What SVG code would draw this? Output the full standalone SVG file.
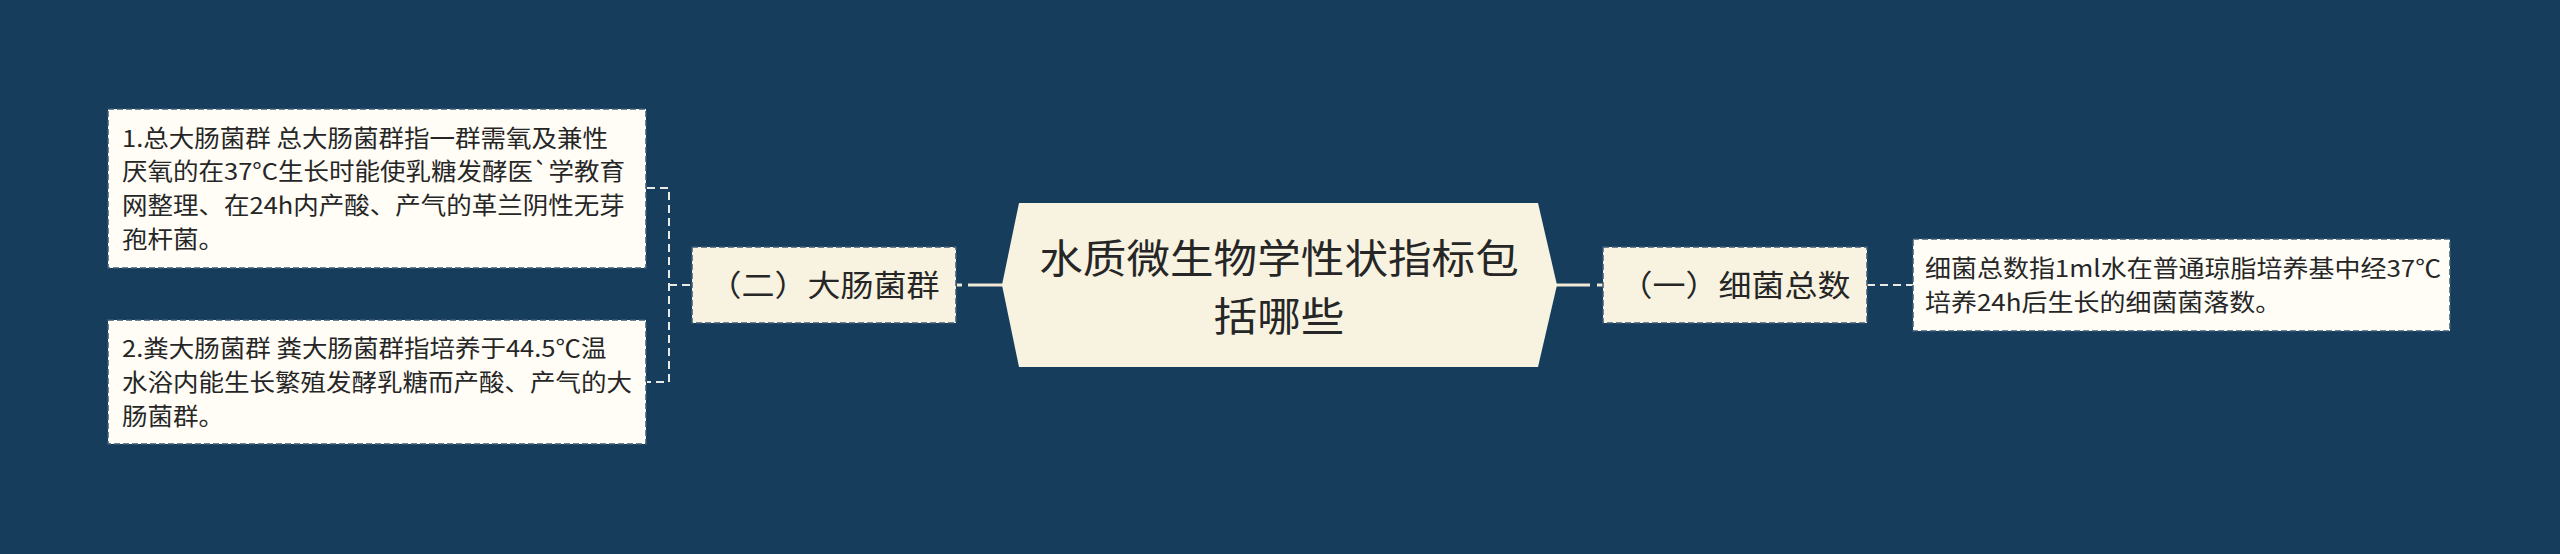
<svg xmlns="http://www.w3.org/2000/svg" width="2560" height="554" viewBox="0 0 2560 554">
<style>
.bg{fill:#173d5c}
.leaf{fill:#fffdf6;stroke:#3d5a75;stroke-width:1.5;stroke-dasharray:6 3}
.node{fill:#f8f3e1;stroke:#3d5a75;stroke-width:1.5;stroke-dasharray:6 3}
.center{fill:#f8f3e1}
.dash{fill:none;stroke:#e9e9e6;stroke-width:2;stroke-dasharray:8 5}
.solid{fill:none;stroke:#efe9d6;stroke-width:3}
text{font-family:"Noto Sans CJK SC","Noto Sans",sans-serif;fill:#262626}
.lt{font-size:23.4px}
.nt{font-size:30px;text-anchor:middle}
.tt{font-size:40px;text-anchor:middle}
</style>
<rect class="bg" x="0" y="0" width="2560" height="554"/>
<g id="connectors">
<path class="dash" d="M647,188 H669 V382 H647"/>
<path class="dash" d="M669,285 H692"/>
<path class="solid" d="M968,285 H1003"/>
<path class="solid" d="M957,285 H962"/>
<path class="solid" d="M1556,285 H1590"/>
<path class="solid" d="M1597,285 H1603"/>
<path class="dash" d="M1867,285 H1913"/>
</g>
<g id="center">
<polygon class="center" points="1002,285 1019,203 1538,203 1557,285 1538,367 1019,367"/>
<text class="tt" transform="translate(1279,273) scale(1.09,1)"><tspan x="0" y="0">水质微生物学性状指标包</tspan><tspan x="0" y="58">括哪些</tspan></text>
</g>
<g id="node-2">
<rect class="node" x="692" y="247" width="264" height="76"/>
<text class="nt" transform="translate(824,296) scale(1.1,1)" x="0" y="0">（二）大肠菌群</text>
</g>
<g id="node-1">
<rect class="node" x="1603" y="247" width="264" height="76"/>
<text class="nt" transform="translate(1735,296) scale(1.1,1)" x="0" y="0">（一）细菌总数</text>
</g>
<g id="leaf-2-1">
<rect class="leaf" x="108" y="109" width="538" height="159"/>
<text class="lt" transform="translate(122,146.5) scale(1.09,1)"><tspan x="0" y="0">1.总大肠菌群 总大肠菌群指一群需氧及兼性</tspan><tspan x="0" y="33.7">厌氧的在37°C生长时能使乳糖发酵医`学教育</tspan><tspan x="0" y="67.4">网整理、在24h内产酸、产气的革兰阴性无芽</tspan><tspan x="0" y="101.1">孢杆菌。</tspan></text>
</g>
<g id="leaf-2-2">
<rect class="leaf" x="108" y="320" width="538" height="124"/>
<text class="lt" transform="translate(122,357) scale(1.09,1)"><tspan x="0" y="0">2.粪大肠菌群 粪大肠菌群指培养于44.5℃温</tspan><tspan x="0" y="34">水浴内能生长繁殖发酵乳糖而产酸、产气的大</tspan><tspan x="0" y="68">肠菌群。</tspan></text>
</g>
<g id="leaf-1-1">
<rect class="leaf" x="1913" y="239" width="537" height="92"/>
<text class="lt" transform="translate(1925,277) scale(1.11,1)"><tspan x="0" y="0">细菌总数指1ml水在普通琼脂培养基中经37℃</tspan><tspan x="0" y="33.6">培养24h后生长的细菌菌落数。</tspan></text>
</g>
</svg>
